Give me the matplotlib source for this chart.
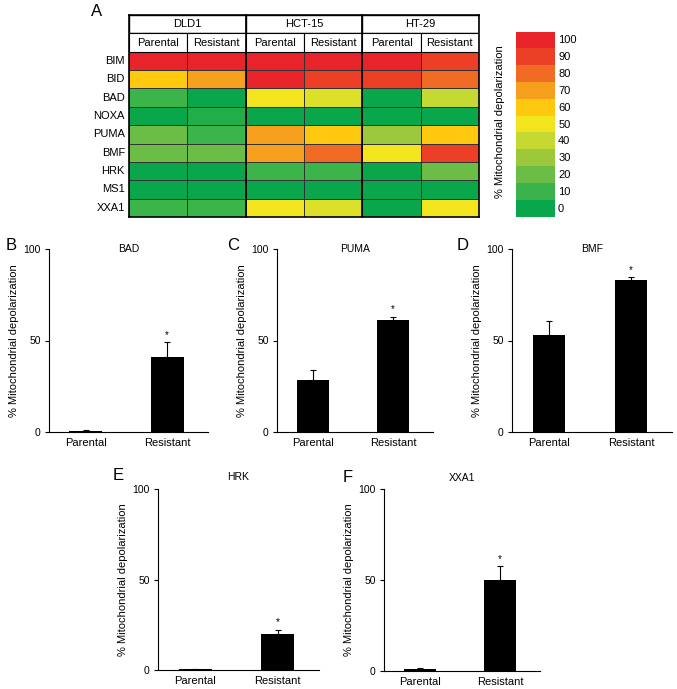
import numpy as np
import matplotlib
matplotlib.use("Agg")
import matplotlib.pyplot as plt
from matplotlib.colors import LinearSegmentedColormap
from matplotlib.patches import Rectangle

plt.rcParams['font.family'] = ['Liberation Sans', 'DejaVu Sans']

# Heatmap data
cell_lines = ["DLD1", "HCT-15", "HT-29"]
conditions = ["Parental", "Resistant"]
peptides = ["BIM", "BID", "BAD", "NOXA", "PUMA", "BMF", "HRK", "MS1", "XXA1"]
heat = np.array([
    [100, 100, 100, 100, 100, 90],
    [60, 70, 100, 90, 90, 80],
    [10, 0, 50, 45, 0, 40],
    [0, 5, 0, 0, 0, 0],
    [20, 10, 70, 60, 30, 60],
    [20, 20, 70, 80, 50, 90],
    [0, 0, 10, 10, 0, 20],
    [0, 0, 0, 0, 0, 0],
    [10, 10, 50, 45, 0, 50],
])
scale_ticks = [0, 10, 20, 30, 40, 50, 60, 70, 80, 90, 100]
scale_colors = ["#0aa64c", "#3cb44a", "#6cbd45", "#9dc93b", "#c5d932", "#f2e61e",
                "#fdc80d", "#f7a11d", "#f16b25", "#ec4026", "#e8232a"]

# Bar chart data
groups = ["Parental", "Resistant"]
bar_panels = ["BAD", "PUMA", "BMF", "HRK", "XXA1"]
bar_means = {"BAD": [0.6, 41], "PUMA": [28.5, 61], "BMF": [53, 83],
             "HRK": [0.5, 20], "XXA1": [1.2, 50]}
bar_errs = {"BAD": [0.3, 8], "PUMA": [5.5, 2], "BMF": [7.5, 1.5],
            "HRK": [0.3, 2], "XXA1": [0.3, 7.5]}

W, H = 677, 689
fig = plt.figure(figsize=(W / 100, H / 100), dpi=100)


def px_axes(x0, y0, x1, y1):
    return fig.add_axes([x0 / W, 1 - y1 / H, (x1 - x0) / W, (y1 - y0) / H])


cmap = LinearSegmentedColormap.from_list("dep", list(zip(np.linspace(0, 1, 11), scale_colors)))

# ---- Panel A heatmap ----
ax = px_axes(129, 15, 479, 217)
nrow = len(peptides)
ax.pcolormesh(np.arange(7), np.arange(2, nrow + 3), heat, cmap=cmap, vmin=0, vmax=100,
              edgecolors="#333333", linewidth=0.6)
ax.set_xlim(0, 6)
ax.set_ylim(nrow + 2, 0)
for i, cl in enumerate(cell_lines):
    ax.add_patch(Rectangle((2 * i, 0), 2, 1, facecolor="white", edgecolor="black", lw=1))
    ax.text(2 * i + 1, 0.5, cl, ha="center", va="center", fontsize=8)
    for j, cond in enumerate(conditions):
        ax.add_patch(Rectangle((2 * i + j, 1), 1, 1, facecolor="white", edgecolor="black", lw=0.8))
        ax.text(2 * i + j + 0.5, 1.5, cond, ha="center", va="center", fontsize=8)
for xv in [0, 2, 4, 6]:
    ax.plot([xv, xv], [0, nrow + 2], color="black", lw=1.2, clip_on=False)
ax.plot([0, 6], [nrow + 2, nrow + 2], color="black", lw=1.2, clip_on=False)
ax.plot([0, 6], [0, 0], color="black", lw=1.2, clip_on=False)
for r, p in enumerate(peptides):
    ax.text(-0.07, r + 2.5, p, ha="right", va="center", fontsize=8)
ax.axis("off")
fig.text(97 / W, 1 - 12 / H, "A", fontsize=12, ha="center", va="center")

# colour scale
cax = px_axes(516, 32, 555, 217)
cax.imshow(np.array(scale_ticks[::-1])[:, None], cmap=cmap, vmin=0, vmax=100,
           aspect="auto", extent=[0, 1, 0, 11])
cax.set_xlim(0, 1)
cax.set_ylim(0, 11)
for k, t in enumerate(scale_ticks):
    cax.text(1.08, k + 0.5, str(t), ha="left", va="center", fontsize=8)
cax.axis("off")
fig.text(500 / W, 1 - 122 / H, "% Mitochondrial depolarization", rotation=90,
         ha="center", va="center", fontsize=8)

# ---- Bar panels ----
boxes = {"BAD": (49, 249, 208, 432), "PUMA": (277, 249, 433, 432), "BMF": (512, 249, 672, 432),
         "HRK": (158, 489, 319, 670), "XXA1": (384, 489, 540, 671)}
letters = {"BAD": ("B", 6, 245), "PUMA": ("C", 227, 245), "BMF": ("D", 457, 245),
           "HRK": ("E", 113, 476), "XXA1": ("F", 343, 478)}
titles_y = {"BAD": 249, "PUMA": 249, "BMF": 249, "HRK": 477, "XXA1": 478}

for name in bar_panels:
    b = px_axes(*boxes[name])
    xs = np.arange(len(groups))
    m = bar_means[name]
    e = bar_errs[name]
    b.bar(xs, m, width=0.4, color="black")
    b.errorbar(xs, m, yerr=[np.zeros(2), e], fmt="none", ecolor="black",
               elinewidth=0.8, capsize=2, capthick=0.8)
    b.text(1, m[1] + e[1] + 1.5, "*", ha="center", va="bottom", fontsize=7)
    b.set_xlim(-0.45, 1.5)
    b.set_ylim(0, 100)
    b.set_yticks([0, 50, 100])
    b.set_xticks(xs)
    b.set_xticklabels(groups)
    b.tick_params(axis="x", length=0, labelsize=8, pad=4)
    b.tick_params(axis="y", length=3, width=0.8, labelsize=7.5, pad=3)
    for s in ["top", "right"]:
        b.spines[s].set_visible(False)
    for s in ["left", "bottom"]:
        b.spines[s].set_linewidth(0.8)
    b.set_ylabel("% Mitochondrial depolarization", fontsize=8, labelpad=3)
    x0, _, x1, _ = boxes[name]
    fig.text((x0 + x1) / 2 / W, 1 - titles_y[name] / H, name, fontsize=7.5,
             ha="center", va="center")
    lt, lx, ly = letters[name]
    fig.text(lx / W, 1 - ly / H, lt, fontsize=12, ha="left", va="center")

fig.savefig("out.png", dpi=100)
